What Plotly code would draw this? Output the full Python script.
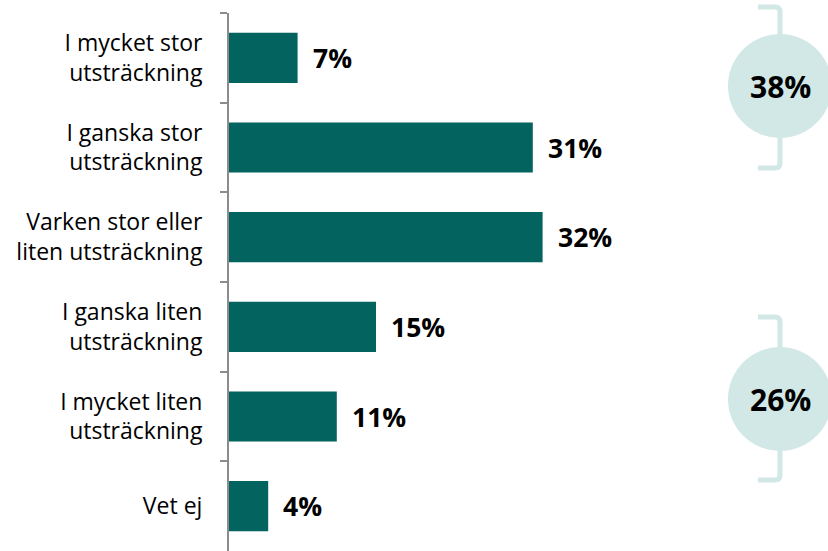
import plotly.graph_objects as go

# Survey answers, top to bottom
categories = [
    "I mycket stor<br>utsträckning",
    "I ganska stor<br>utsträckning",
    "Varken stor eller<br>liten utsträckning",
    "I ganska liten<br>utsträckning",
    "I mycket liten<br>utsträckning",
    "Vet ej",
]
values = [7, 31, 32, 15, 11, 4]
value_labels = ["7%", "31%", "32%", "15%", "11%", "4%"]

# Combined shares shown in the side circles
group_labels = ["38%", "26%"]

BAR_COLOR = "#03635f"
BUBBLE_COLOR = "#d1e8e6"
FONT = "'Open Sans', Lato, sans-serif"

W, H = 828, 551
L, T, R, B = 229, 13, 11, 0
plot_w = W - L - R
plot_h = H - T - B

fig = go.Figure()
fig.add_trace(go.Bar(
    x=values,
    y=categories,
    orientation="h",
    marker=dict(color=BAR_COLOR, line=dict(width=0)),
    width=0.56,
    hoverinfo="skip",
))

for cat, v, lab in zip(categories, values, value_labels):
    fig.add_annotation(
        x=v, y=cat, text=f"<b>{lab}</b>", showarrow=False,
        xanchor="left", yanchor="middle", xshift=13,
        font=dict(family=FONT, size=26.5, color="#000000"),
    )

# Bubbles with brackets (pixel centres inside the figure)
bubble_cx = 780
bubble_cy = [86, 399]
bracket_top = [79, 82]
bracket_bot = [82, 81]
radius = 52

for lab, cy, bt, bb in zip(group_labels, bubble_cy, bracket_top, bracket_bot):
    xa = (bubble_cx - L) / plot_w
    ya = (H - B - cy) / plot_h
    path = (f"M -22,{bt} L -5,{bt} Q 0,{bt} 0,{bt-5} "
            f"L 0,{-bb+5} Q 0,{-bb} -5,{-bb} L -22,{-bb}")
    fig.add_shape(
        type="path", xref="paper", yref="paper",
        xsizemode="pixel", ysizemode="pixel",
        xanchor=xa, yanchor=ya, path=path,
        line=dict(color=BUBBLE_COLOR, width=5),
    )
    fig.add_shape(
        type="circle", xref="paper", yref="paper",
        xsizemode="pixel", ysizemode="pixel",
        xanchor=xa, yanchor=ya,
        x0=-radius, x1=radius, y0=-radius, y1=radius,
        fillcolor=BUBBLE_COLOR, line=dict(width=0),
    )
    fig.add_annotation(
        x=xa, y=ya, xref="paper", yref="paper",
        text=f"<b>{lab}</b>", showarrow=False,
        xanchor="center", yanchor="middle",
        font=dict(family=FONT, size=30, color="#000000"),
    )

fig.update_layout(
    width=W, height=H,
    margin=dict(l=L, r=R, t=T, b=B, pad=0),
    paper_bgcolor="white", plot_bgcolor="white",
    showlegend=False,
    font=dict(family=FONT, size=23, color="#000000"),
    bargap=0.44,
)
fig.update_xaxes(range=[0, 60], visible=False, fixedrange=True)
fig.update_yaxes(
    type="category",
    categoryorder="array", categoryarray=categories,
    autorange="reversed",
    showline=True, linecolor="#8c8c8c", linewidth=2,
    ticks="outside", tickson="boundaries", ticklen=7,
    tickcolor="#8c8c8c", tickwidth=1.5,
    ticklabelstandoff=20,
    tickfont=dict(family=FONT, size=23, color="#000000"),
    showgrid=False, zeroline=False, fixedrange=True,
)

fig.write_html("out.html")
